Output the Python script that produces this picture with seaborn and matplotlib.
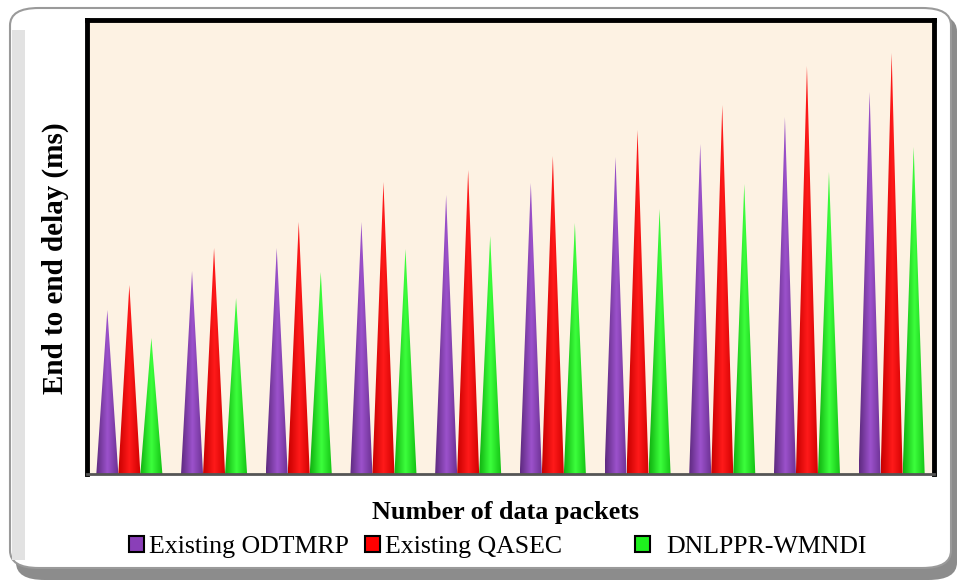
import numpy as np
import pandas as pd
import seaborn as sns
import matplotlib
matplotlib.use("Agg")
import matplotlib.pyplot as plt
from matplotlib.patches import Polygon, FancyBboxPatch, Patch
from matplotlib.colors import LinearSegmentedColormap

# ---- data (arbitrary delay units) ----
packets = ["10", "20", "30", "40", "50", "60", "70", "80", "90", "100"]
odtmrp = [164, 203, 226, 252, 279, 291, 317, 330, 357, 382]
qasec = [189, 226, 252, 292, 304, 318, 344, 369, 408, 421]
dnlppr = [136, 176, 202, 225, 238, 251, 265, 290, 302, 327]
methods = ["Existing ODTMRP", "Existing QASEC", "DNLPPR-WMNDI"]

df = pd.DataFrame({
    "packets": packets * 3,
    "delay": odtmrp + qasec + dnlppr,
    "method": [methods[0]] * 10 + [methods[1]] * 10 + [methods[2]] * 10,
})

base_cols = {"Existing ODTMRP": "#8a3fb8", "Existing QASEC": "#ff0000", "DNLPPR-WMNDI": "#1ef01e"}
grad = {
    "Existing ODTMRP": ["#5e2a80", "#9c52cc", "#6a3090"],
    "Existing QASEC": ["#c80000", "#ff1a1a", "#d00000"],
    "DNLPPR-WMNDI": ["#10b010", "#3cff3c", "#12c012"],
}

W, H = 957, 580
fig = plt.figure(figsize=(W / 100, H / 100), dpi=100)
fig.patch.set_facecolor("white")

def fx(x):
    return x / W

def fy(y):
    return 1 - y / H

# outer rounded frame with shadow
shadow = FancyBboxPatch((fx(16), fy(580)), fx(941), fy(14) - fy(580),
                        boxstyle="round,pad=0,rounding_size=0.03", transform=fig.transFigure,
                        facecolor="#8c8c8c", edgecolor="none", zorder=0)
fig.patches.append(shadow)
box = FancyBboxPatch((fx(10), fy(568)), fx(941), fy(8) - fy(568),
                     boxstyle="round,pad=0,rounding_size=0.03", transform=fig.transFigure,
                     facecolor="white", edgecolor="#9a9a9a", linewidth=1.5, zorder=1)
fig.patches.append(box)
strip = plt.Rectangle((fx(12), fy(560)), fx(13), fy(30) - fy(560), transform=fig.transFigure,
                      facecolor="#e2e2e2", edgecolor="none", zorder=1.5)
fig.patches.append(strip)

ax = fig.add_axes([fx(87), fy(474), fx(934) - fx(87), fy(20) - fy(474)])
ax.set_zorder(3)
ax.set_facecolor("#fdf2e3")

sns.barplot(data=df, x="packets", y="delay", hue="method", hue_order=methods,
            palette=base_cols, width=0.78, saturation=1, ax=ax, legend=False)

# turn each seaborn bar into a shaded cone
n = len(packets)
for i, p in enumerate(list(ax.patches)):
    h = p.get_height()
    if not np.isfinite(h) or h <= 0:
        continue
    x0 = p.get_x()
    w = p.get_width()
    m = methods[i // n]
    p.set_visible(False)
    tri = Polygon([(x0, 0), (x0 + w / 2, h), (x0 + w, 0)], closed=True,
                  facecolor="none", edgecolor="none", transform=ax.transData)
    ax.add_patch(tri)
    cmap = LinearSegmentedColormap.from_list("c", grad[m])
    g = np.linspace(0, 1, 64).reshape(1, -1)
    im = ax.imshow(g, extent=[x0, x0 + w, 0, h], aspect="auto", cmap=cmap,
                   origin="lower", zorder=2, interpolation="bilinear")
    im.set_clip_path(tri)

ax.set_xlim(-0.5, n - 0.5)
ax.set_ylim(0, 454)
ax.set_xticks([])
ax.set_yticks([])
ax.set_xlabel("")
ax.set_ylabel("")
for s in ["left", "top", "right"]:
    ax.spines[s].set_color("black")
    ax.spines[s].set_linewidth(3.5)
ax.spines["bottom"].set_color("#555555")
ax.spines["bottom"].set_linewidth(2)

serif = ["Liberation Serif", "DejaVu Serif"]
fig.text(fx(506), fy(512), "Number of data packets", ha="center", va="center",
         fontsize=18.8, fontweight="bold", family=serif, zorder=5)
fig.text(fx(55), fy(258), "End to end delay (ms)", ha="center", va="center",
         rotation=90, fontsize=21, fontweight="bold", family=serif, zorder=5)

handles = [Patch(facecolor=base_cols[m], edgecolor="black", linewidth=1.5) for m in methods]
fs = 18.6
fpx = fs * 100 / 72
legA = fig.legend(handles[:2], methods[:2], loc="center left", bbox_to_anchor=(fx(129), fy(547)),
                  ncol=2, frameon=False, prop={"family": serif, "size": fs},
                  handlelength=15 / fpx, handleheight=15 / fpx, handletextpad=5 / fpx,
                  columnspacing=16 / fpx, borderaxespad=0, borderpad=0)
legB = fig.legend(handles[2:], methods[2:], loc="center left", bbox_to_anchor=(fx(635), fy(547)),
                  ncol=1, frameon=False, prop={"family": serif, "size": fs},
                  handlelength=15 / fpx, handleheight=15 / fpx, handletextpad=16 / fpx,
                  borderaxespad=0, borderpad=0)
legA.set_zorder(5)
legB.set_zorder(5)

fig.savefig("out.png", dpi=100)
